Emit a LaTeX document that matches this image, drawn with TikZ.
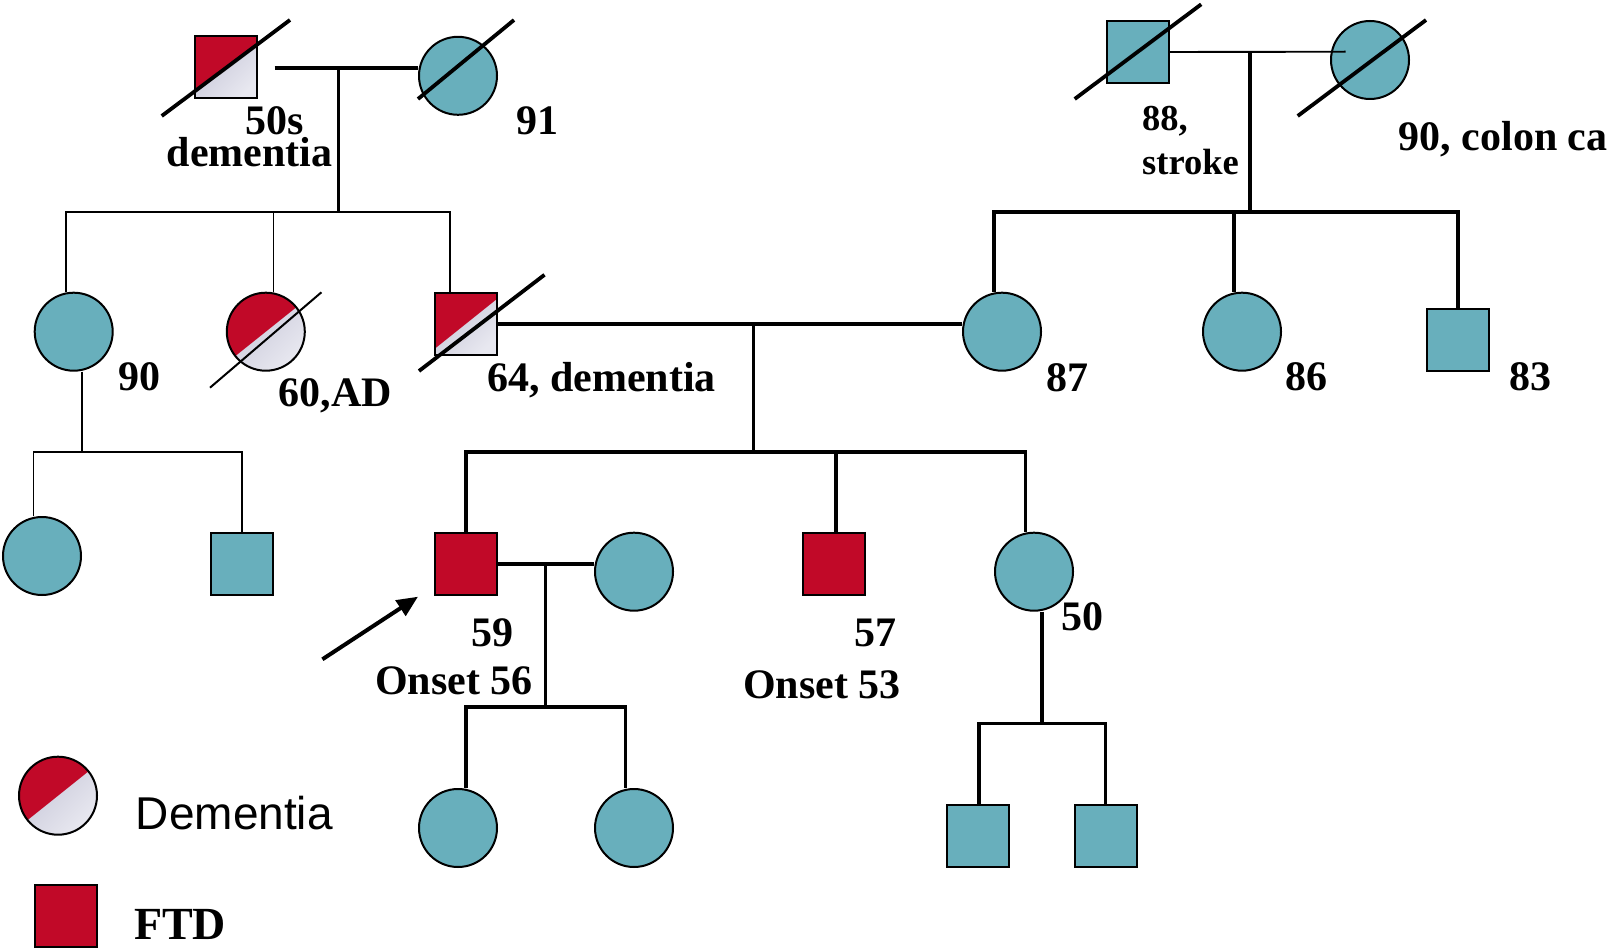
\documentclass[tikz,border=0pt]{standalone}
\usepackage{fontspec}
\setmainfont{Liberation Serif}
\newfontfamily\legsans{Liberation Sans}
\usetikzlibrary{arrows.meta}
\definecolor{teal1}{RGB}{104,175,188}
\definecolor{dred}{RGB}{193,9,40}
\definecolor{grA}{RGB}{196,196,214}
\definecolor{grB}{RGB}{232,232,240}
\pgfdeclarelayer{bg}
\pgfsetlayers{bg,main}
\tikzset{
  male/.style={rectangle, draw=black, line width=2pt, minimum size=62pt, inner sep=0pt, fill=teal1},
  female/.style={circle, draw=black, line width=2pt, minimum size=78pt, inner sep=0pt, fill=teal1},
  ftd/.style={fill=dred},
  dem/.style={top color=grA, bottom color=grB, shading angle=45,
    path picture={\fill[dred] (path picture bounding box.center) ++(-70,56) -- ++(140,-112) -- ++(0,-60) -- ++(-140,0) -- cycle;}},
  thk/.style={line width=3.6pt},
  thn/.style={line width=1.9pt},
  slashthk/.style={line width=3.8pt},
  slashthn/.style={line width=2pt},
  lab/.style={anchor=base west, inner sep=0pt, font=\fontsize{42}{48}\selectfont\bfseries},
  labs/.style={anchor=base west, inner sep=0pt, font=\fontsize{36.5}{44}\selectfont\bfseries},
}
\begin{document}
\begin{tikzpicture}[x=1pt,y=-1pt]
\useasboundingbox (0,0) rectangle (1608,952);
\begin{pgfonlayer}{bg}
  \fill[white] (0,0) rectangle (1608,952);
\end{pgfonlayer}
% generation I
\node[male, dem] (gf1) at (226,67.5) {};
\node[female] (gm1) at (458,75.8) {};
\node[male] (gf2) at (1138,52) {};
\node[female] (gm2) at (1370,60) {};
% generation II
\node[female] (aunt90) at (73.7,331.7) {};
\node[female, dem] (aunt60) at (265.8,331.7) {};
\node[male, dem] (father) at (466,323.7) {};
\node[female] (mother) at (1002,331.7) {};
\node[female] (aunt86) at (1242,331.7) {};
\node[male] (uncle83) at (1458,339.5) {};
% generation III
\node[female] (cous1) at (42,556) {};
\node[male] (cous2) at (241.7,564) {};
\node[male, ftd] (proband) at (466,564) {};
\node[female] (spouse) at (634,571.7) {};
\node[male, ftd] (uncle57) at (834,564) {};
\node[female] (aunt50) at (1034,571.7) {};
% generation IV
\node[female] (ch1) at (458,828) {};
\node[female] (ch2) at (634,828) {};
\node[male] (gs1) at (978,836) {};
\node[male] (gs2) at (1106,836) {};
% legend
\node[female, dem] (legdem) at (58,795.7) {};
\node[male, ftd] (legftd) at (66,915.5) {};

% coordinates
\coordinate (m1a) at (274.5,68.3);
\coordinate (d1) at (338.5,68.3);
\coordinate (s1) at (338.5,211.7);
\coordinate (s1l) at (65.6,211.7);
\coordinate (s1m) at (273.5,211.7);
\coordinate (s1r) at (449.6,211.7);
\coordinate (d2) at (753.5,323.7);
\coordinate (s2) at (753.5,451.7);
\coordinate (s2l) at (465.7,451.7);
\coordinate (s2m) at (836,451.7);
\coordinate (s2r) at (1025.6,451.7);
\coordinate (m3b) at (1345.5,51.7);
\coordinate (d3) at (1249.8,51.7);
\coordinate (s3) at (1249.8,211.7);
\coordinate (s3l) at (994,211.7);
\coordinate (s3m) at (1233.7,211.7);
\coordinate (s3r) at (1457.7,211.7);
\coordinate (d4) at (82,371.7);
\coordinate (s4) at (82,451.7);
\coordinate (s4l) at (33.5,451.7);
\coordinate (s4r) at (241.7,451.7);
\coordinate (d5) at (545.6,564.3);
\coordinate (s5) at (545.6,707);
\coordinate (s5l) at (465.7,707);
\coordinate (s5r) at (625.6,707);
\coordinate (d6) at (1042,611.7);
\coordinate (s6) at (1042,723.3);
\coordinate (s6l) at (978.7,723.3);
\coordinate (s6r) at (1105.5,723.3);
\coordinate (arrs) at (322.4,659.3);
\coordinate (arrt) at (418,596.7);

\begin{pgfonlayer}{bg}
  \draw[thk] (m1a) -- (m1a -| gm1.west);
  \draw[thk] (d1) -- (s1);
  \draw[thn] (s1l |- aunt90.north) -- (s1l) -- (s1r) -- (s1r |- father.north);
  \draw[thn] (s1m) -- (s1m |- aunt60.north);
  \draw[thk] (father.east) -- (father.east -| mother.west);
  \draw[thk] (d2) -- (s2);
  \draw[thk] (s2l |- proband.north) -- (s2l) -- (s2r) -- (s2r |- aunt50.north);
  \draw[thk] (s2m) -- (s2m |- uncle57.north);
  \draw[thk] (d3) -- (s3);
  \draw[thk] (s3l |- mother.north) -- (s3l) -- (s3r) -- (s3r |- uncle83.north);
  \draw[thk] (s3m) -- (s3m |- aunt86.north);
  \draw[thn] (d4) -- (s4);
  \draw[thn] (s4l |- cous1.north) -- (s4l) -- (s4r) -- (s4r |- cous2.north);
  \draw[thk] (proband.east) -- (proband.east -| spouse.west);
  \draw[thk] (d5) -- (s5);
  \draw[thk] (s5l |- ch1.north) -- (s5l) -- (s5r) -- (s5r |- ch2.north);
  \draw[thk] (d6) -- (s6);
  \draw[thk] (s6l |- gs1.north) -- (s6l) -- (s6r) -- (s6r |- gs2.north);
\end{pgfonlayer}

% marriage line drawn over the circle
\draw[thn] (gf2.east) -- (m3b);

% deceased slashes
\draw[slashthk] (161.7,116) -- (290,20);
\draw[slashthk] (418,99) -- (514,20);
\draw[slashthk] (1074.7,99) -- (1201.2,4.3);
\draw[slashthk] (1297.7,116) -- (1426,20);
\draw[slashthk] (419,371) -- (544.5,274.8);
\draw[slashthn] (210,387.7) -- (321.4,292.3);

% proband arrow
\draw[line width=4pt, -{Triangle[length=21pt,width=18pt]}] (arrs) -- (arrt);

% labels
\node[lab] (t50s) at (245.5,135) {50s};
\node[lab] (tdem) at (166.5,166.7) {dementia};
\node[lab] (t91) at (516,135) {91};
\node[labs] (t88) at (1142,130.5) {88,};
\node[labs] (tstroke) at (1142,175) {stroke};
\node[lab] (t90c) at (1398.5,150.7) {90, colon ca};
\node[lab] (t90) at (118,390.5) {90};
\node[lab] (t60) at (278.6,406.7) {60,AD};
\node[lab] (t64) at (487,391) {64, dementia};
\node[lab] (t87) at (1046,391) {87};
\node[lab] (t86) at (1285.7,390.5) {86};
\node[lab] (t83) at (1509.6,390.5) {83};
\node[lab] (t59) at (471,646) {59};
\node[lab] (tons56) at (375,694.3) {Onset 56};
\node[lab] (t57) at (854,646) {57};
\node[lab] (tons53) at (742.8,698.5) {Onset 53};
\node[lab] (t50) at (1061,630.5) {50};
\node[anchor=base west, inner sep=0pt, font=\fontsize{46}{52}\selectfont\legsans] (tlegdem) at (135.7,829.3) {Dementia};
\node[anchor=base west, inner sep=0pt, font=\fontsize{46}{52}\selectfont\bfseries] (tlegftd) at (134,939) {FTD};
\end{tikzpicture}
\end{document}
